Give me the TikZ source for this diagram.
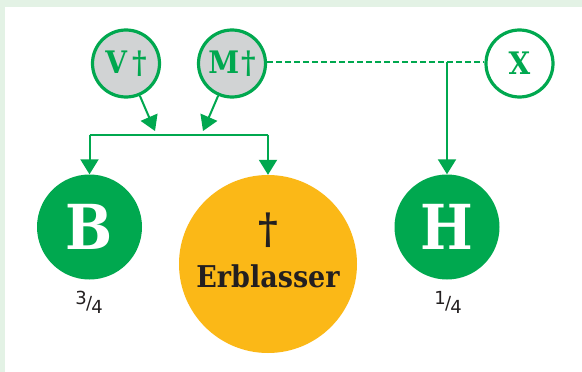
\documentclass[tikz,border=0pt]{standalone}
\usepackage{fontspec}
\usetikzlibrary{arrows.meta}
\newfontfamily\slab{DejaVu Serif Condensed}
\newfontfamily\fracfont{DejaVu Sans}
\definecolor{erbgreen}{HTML}{00A84F}
\definecolor{erborange}{HTML}{FBB817}
\definecolor{erbgray}{HTML}{D1D3D4}
\definecolor{erbbg}{HTML}{E3F2E5}
\definecolor{erbdark}{HTML}{231F20}
\newcommand{\frc}[2]{\raisebox{5pt}{#1}\kern-0.5pt/\kern-1pt\raisebox{-4pt}{#2}}
\begin{document}
\begin{tikzpicture}[x=1pt,y=-1pt,
  person/.style={circle,draw=erbgreen,line width=3.2pt,minimum size=67pt,inner sep=0pt,
    text=erbgreen,font=\slab\bfseries\fontsize{31}{31}\selectfont},
  dead/.style={person,fill=erbgray},
  heir/.style={circle,fill=erbgreen,minimum size=105pt,inner sep=0pt,text=white,
    font=\slab\bfseries\fontsize{62}{62}\selectfont},
  conn/.style={draw=erbgreen,line width=2pt},
  arr/.style={conn,-{Triangle[width=18pt,length=15pt]}},
  share/.style={font=\fracfont\fontsize{18}{18}\selectfont,text=erbdark,inner sep=0pt}]
\path[fill=erbbg] (0,0) rectangle (582,372);
\fill[white] (5,7) rectangle (582,372);
% nodes
\node[dead] (V) at (126,63.5) {V\kern5pt†};
\node[dead] (M) at (232,63.5) {M\kern2pt†};
\node[person,fill=white] (X) at (519.5,63.5) {X};
\node[heir] (B) at (89.5,227) {B};
\node[circle,fill=erborange,minimum size=178pt,inner sep=0pt] (E) at (268,264) {};
\node[heir] (H) at (447,227) {H};
\node[text=erbdark,font=\slab\bfseries\fontsize{42}{42}\selectfont,inner sep=0pt] (Edag) at (268,230) {†};
\node[text=erbdark,font=\slab\bfseries\fontsize{30}{30}\selectfont,inner sep=0pt] (Etxt) at (268,276) {Erblasser};
\node[share] (sB) at (89,302) {\frc{3}{4}};
\node[share] (sH) at (448,302) {\frc{1}{4}};
% junctions
\coordinate (jv) at (155,131);
\coordinate (jm) at (203,131);
\coordinate (jl) at (89.5,134.5);
\coordinate (jr) at (268,134.5);
\coordinate (jh) at (447,61.5);
% connectors
\draw[arr] (V) -- (jv);
\draw[arr] (M) -- (jm);
\draw[conn] (jl) -- (jr);
\draw[arr] (jl) -- (B);
\draw[arr] (jr) -- (E);
\draw[conn,dash pattern=on 6pt off 3pt] (M.east |- jh) -- (X.west |- jh);
\draw[arr] (jh) -- (H);
\end{tikzpicture}
\end{document}
